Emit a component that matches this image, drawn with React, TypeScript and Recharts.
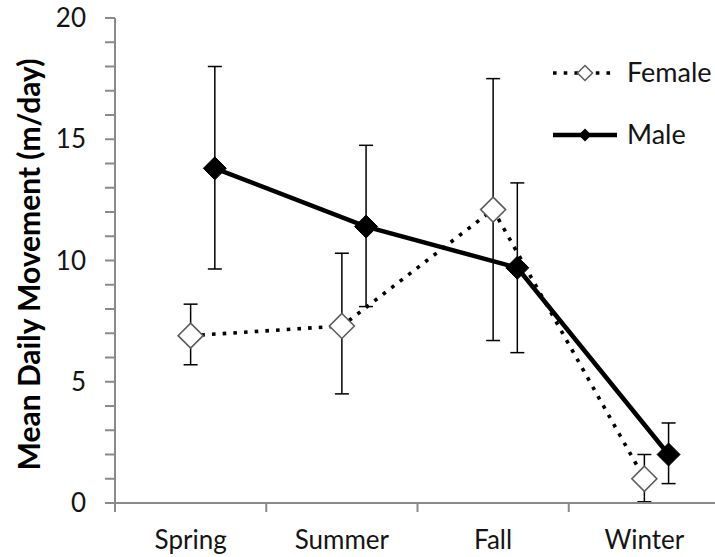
import React from 'react';
import {
  LineChart,
  Line,
  XAxis,
  YAxis,
  ErrorBar,
  Legend,
  Label
} from 'recharts';

// Seasons on the category axis
const seasons = ['Spring', 'Summer', 'Fall', 'Winter'];

// Female means with lower / upper error bar ends (m/day)
const femaleMean = [6.9, 7.3, 12.1, 1.0];
const femaleLow = [5.7, 4.5, 6.7, 0.05];
const femaleHigh = [8.2, 10.3, 17.5, 2.0];

// Male means with lower / upper error bar ends (m/day)
const maleMean = [13.8, 11.4, 9.7, 2.0];
const maleLow = [9.65, 8.1, 6.2, 0.8];
const maleHigh = [18.0, 14.75, 13.2, 3.3];

const yTicks = [0, 1, 2, 3, 4, 5, 6, 7, 8, 9, 10, 11, 12, 13, 14, 15, 16, 17, 18, 19, 20];
const xTicks = [0.5, 1, 1.5, 2, 2.5, 3, 3.5, 4, 4.5];

// male points sit a little to the right of the category centre
const maleShift = 0.16;

const FONT = 'Lato, "Open Sans", sans-serif';
const AXIS_GREY = '#8a8a8a';
const TEXT = '#141414';
const DOTTED = '3.6 7.1';

const buildRows = (mean: number[], low: number[], high: number[], shift: number) =>
  mean.map((m, i) => ({
    x: i + 1 + shift,
    y: m,
    err: [m - low[i], high[i] - m]
  }));

const femaleRows = buildRows(femaleMean, femaleLow, femaleHigh, 0);
const maleRows = buildRows(maleMean, maleLow, maleHigh, maleShift);

const diamond = (cx: number, cy: number, r: number) =>
  `M${cx},${cy - r} L${cx + r},${cy} L${cx},${cy + r} L${cx - r},${cy} Z`;

const OpenDiamond = (props: any) => {
  const { cx, cy, index } = props;
  if (cx == null || cy == null) return <g key={index} />;
  return <path key={index} d={diamond(cx, cy, 12.5)} fill="#fff" stroke="#5c5c5c" strokeWidth={1.6} />;
};

const SolidDiamond = (props: any) => {
  const { cx, cy, index } = props;
  if (cx == null || cy == null) return <g key={index} />;
  return <path key={index} d={diamond(cx, cy, 11.5)} fill="#000" stroke="#000" strokeWidth={1} />;
};

// labels sit under the category centres, short tick marks on the boundaries
const SeasonTick = (props: any) => {
  const { x, y, payload } = props;
  const v = payload.value as number;
  if (Number.isInteger(v)) {
    return (
      <text x={x} y={y + 46} textAnchor="middle" fill={TEXT} fontSize={26} fontFamily={FONT}>
        {seasons[v - 1]}
      </text>
    );
  }
  return <line x1={x} y1={y} x2={x} y2={y + 9} stroke={AXIS_GREY} strokeWidth={2} />;
};

const YTitle = (props: any) => {
  const vb = props.viewBox || { x: 0, y: 0, height: 0 };
  const cx = 28;
  const cy = vb.y + vb.height / 2 + 4;
  return (
    <text
      x={cx}
      y={cy}
      transform={`rotate(-90, ${cx}, ${cy})`}
      textAnchor="middle"
      dominantBaseline="central"
      fill="#000"
      fontSize={30}
      fontWeight="bold"
      fontFamily={FONT}
    >
      Mean Daily Movement (m/day)
    </text>
  );
};

const SeriesLegend = () => (
  <svg width={175} height={110}>
    <line x1={13} y1={23} x2={74} y2={23} stroke="#000" strokeWidth={3.6} strokeDasharray={DOTTED} />
    <path d={diamond(45, 23, 7.5)} fill="#fff" stroke="#5c5c5c" strokeWidth={1.5} />
    <text x={87} y={23} dy="0.35em" fill={TEXT} fontSize={27} fontFamily={FONT}>Female</text>
    <line x1={13} y1={85} x2={77} y2={85} stroke="#000" strokeWidth={4.5} />
    <path d={diamond(45, 85, 6.5)} fill="#000" />
    <text x={87} y={85} dy="0.35em" fill={TEXT} fontSize={27} fontFamily={FONT}>Male</text>
  </svg>
);

export default function App() {
  return (
    <div style={{ position: 'absolute', left: 0, top: 0, width: 715, height: 557, overflow: 'hidden', background: '#fff' }}>
      <LineChart width={720} height={557} margin={{ top: 18, right: 0, left: 0, bottom: 0 }}>
        <XAxis
          dataKey="x"
          type="number"
          domain={[0.5, 4.5]}
          ticks={xTicks}
          interval={0}
          allowDataOverflow
          height={54}
          tickSize={0}
          tickMargin={0}
          tickLine={false}
          tick={<SeasonTick />}
          axisLine={{ stroke: AXIS_GREY, strokeWidth: 2 }}
        />
        <YAxis
          type="number"
          domain={[0, 20]}
          ticks={yTicks}
          interval={0}
          width={115}
          tickSize={10}
          tickMargin={19}
          tickFormatter={(v: number) => (v % 5 === 0 ? String(v) : '')}
          tick={{ fill: TEXT, fontSize: 26, fontFamily: FONT }}
          tickLine={{ stroke: AXIS_GREY, strokeWidth: 2 }}
          axisLine={{ stroke: AXIS_GREY, strokeWidth: 2 }}
        >
          <Label content={<YTitle />} />
        </YAxis>
        <Legend
          layout="vertical"
          align="center"
          verticalAlign="middle"
          content={<SeriesLegend />}
          wrapperStyle={{ left: 540, top: 50, width: 175, height: 110 }}
        />
        <Line
          data={maleRows}
          dataKey="y"
          name="Male"
          stroke="#000"
          strokeWidth={4.5}
          dot={<SolidDiamond />}
          activeDot={false}
          isAnimationActive={false}
        >
          <ErrorBar dataKey="err" direction="y" width={7} stroke="#000" strokeWidth={1.5} />
        </Line>
        <Line
          data={femaleRows}
          dataKey="y"
          name="Female"
          stroke="#000"
          strokeWidth={3.6}
          strokeDasharray={DOTTED}
          dot={<OpenDiamond />}
          activeDot={false}
          isAnimationActive={false}
        >
          <ErrorBar dataKey="err" direction="y" width={7} stroke="#000" strokeWidth={1.5} />
        </Line>
      </LineChart>
    </div>
  );
}
